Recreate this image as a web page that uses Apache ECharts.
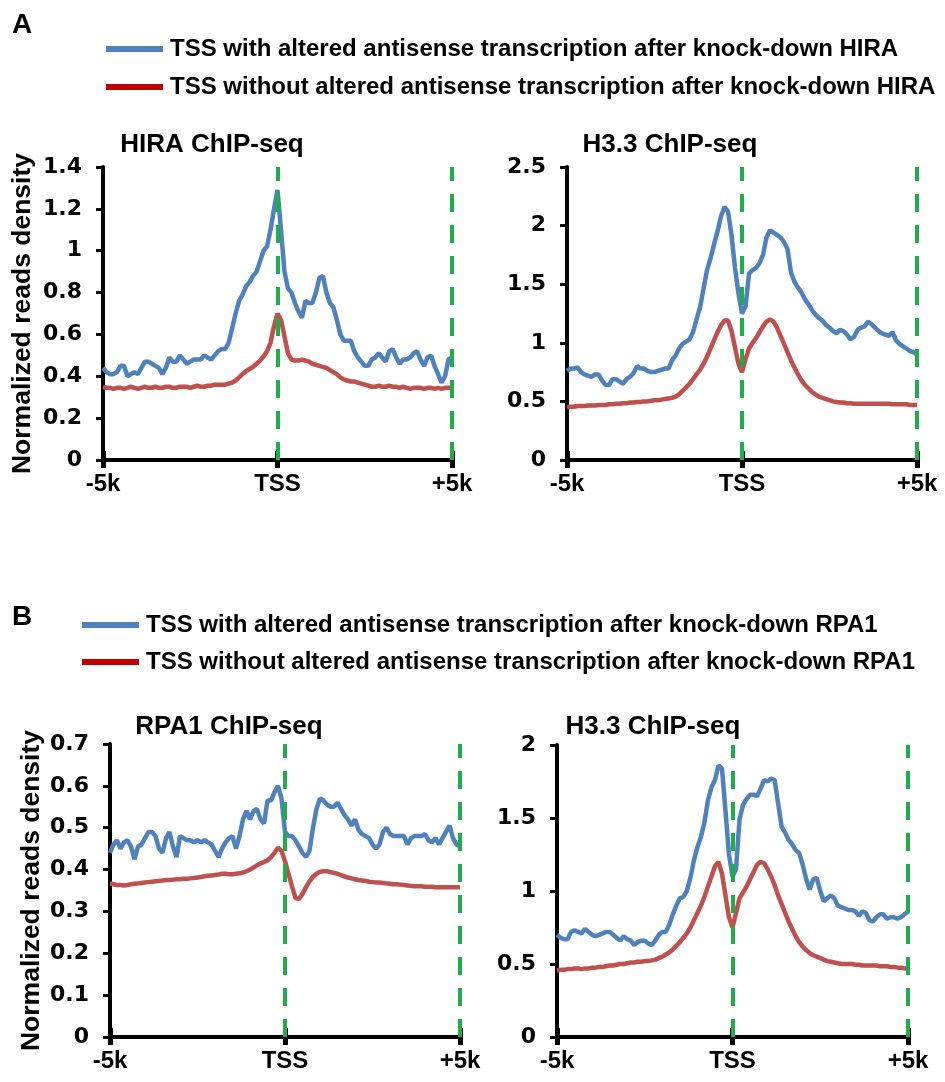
<!DOCTYPE html>
<html>
<head>
<meta charset="utf-8">
<script src="https://cdn.jsdelivr.net/npm/echarts@6/dist/echarts.min.js"></script>
<style>
  html, body { margin: 0; padding: 0; background: #fff; }
  #chart { width: 945px; height: 1082px; }
</style>
</head>
<body>
<div id="chart"></div>
<script>
// bin positions (bp relative to TSS), 100 bp bins from -5k to +5k
const bins = Array.from({ length: 101 }, (_, i) => -5000 + i * 100);

const hiraWith = [
  0.44, 0.42, 0.41, 0.41, 0.42, 0.45, 0.45, 0.40, 0.41, 0.42,
  0.41, 0.44, 0.47, 0.47, 0.46, 0.45, 0.44, 0.41, 0.44, 0.49,
  0.47, 0.47, 0.50, 0.48, 0.46, 0.47, 0.48, 0.48, 0.48, 0.50,
  0.49, 0.48, 0.50, 0.52, 0.53, 0.53, 0.56, 0.63, 0.70, 0.76,
  0.79, 0.83, 0.85, 0.88, 0.90, 0.95, 1.00, 1.02, 1.10, 1.20,
  1.29, 1.10, 0.90, 0.82, 0.80, 0.75, 0.71, 0.68, 0.76, 0.75,
  0.75, 0.80, 0.87, 0.88, 0.80, 0.75, 0.73, 0.67, 0.60, 0.57,
  0.57, 0.57, 0.52, 0.49, 0.47, 0.45, 0.45, 0.48, 0.49, 0.51,
  0.49, 0.47, 0.52, 0.53, 0.49, 0.46, 0.48, 0.48, 0.49, 0.51,
  0.52, 0.48, 0.45, 0.49, 0.50, 0.45, 0.41, 0.37, 0.40, 0.48,
  0.49
];
const hiraWithout = [
  0.35, 0.345, 0.345, 0.34, 0.345, 0.345, 0.34, 0.345, 0.35, 0.345,
  0.34, 0.345, 0.35, 0.345, 0.345, 0.35, 0.345, 0.345, 0.35, 0.35,
  0.345, 0.345, 0.35, 0.35, 0.35, 0.345, 0.35, 0.355, 0.35, 0.35,
  0.355, 0.355, 0.36, 0.36, 0.36, 0.36, 0.365, 0.37, 0.38, 0.395,
  0.41, 0.425, 0.435, 0.445, 0.46, 0.475, 0.495, 0.52, 0.56, 0.64,
  0.70, 0.67, 0.59, 0.51, 0.48, 0.475, 0.475, 0.48, 0.475, 0.47,
  0.46, 0.455, 0.45, 0.445, 0.44, 0.43, 0.42, 0.41, 0.395, 0.385,
  0.38, 0.375, 0.375, 0.37, 0.365, 0.36, 0.355, 0.35, 0.35, 0.355,
  0.35, 0.35, 0.355, 0.35, 0.35, 0.345, 0.35, 0.345, 0.34, 0.345,
  0.345, 0.345, 0.34, 0.345, 0.345, 0.34, 0.345, 0.34, 0.345, 0.345,
  0.345
];
const h33aWith = [
  0.76, 0.78, 0.78, 0.79, 0.75, 0.73, 0.72, 0.71, 0.73, 0.73,
  0.68, 0.64, 0.64, 0.69, 0.69, 0.67, 0.65, 0.69, 0.71, 0.74,
  0.80, 0.78, 0.78, 0.76, 0.75, 0.75, 0.76, 0.77, 0.78, 0.78,
  0.85, 0.89, 0.95, 0.99, 1.01, 1.03, 1.09, 1.20, 1.30, 1.46,
  1.62, 1.72, 1.84, 1.95, 2.08, 2.16, 2.12, 1.92, 1.64, 1.42,
  1.25, 1.31, 1.59, 1.62, 1.64, 1.68, 1.75, 1.90, 1.96, 1.94,
  1.92, 1.90, 1.86, 1.80, 1.60, 1.52, 1.47, 1.43, 1.37, 1.33,
  1.28, 1.24, 1.21, 1.19, 1.15, 1.13, 1.10, 1.08, 1.11, 1.10,
  1.07, 1.03, 1.05, 1.11, 1.13, 1.14, 1.18, 1.16, 1.13, 1.10,
  1.08, 1.07, 1.06, 1.09, 1.02, 0.99, 0.97, 0.95, 0.93, 0.92,
  0.90
];
const h33aWithout = [
  0.45, 0.455, 0.455, 0.46, 0.46, 0.46, 0.465, 0.465, 0.465, 0.47,
  0.47, 0.47, 0.475, 0.475, 0.48, 0.48, 0.485, 0.485, 0.49, 0.49,
  0.495, 0.495, 0.50, 0.50, 0.505, 0.51, 0.51, 0.515, 0.52, 0.525,
  0.53, 0.54, 0.56, 0.59, 0.62, 0.65, 0.69, 0.73, 0.77, 0.82,
  0.88, 0.95, 1.02, 1.09, 1.15, 1.19, 1.19, 1.10, 0.96, 0.82,
  0.75, 0.86, 0.95, 1.00, 1.04, 1.09, 1.14, 1.18, 1.20, 1.18,
  1.13, 1.06, 0.99, 0.92, 0.85, 0.79, 0.73, 0.68, 0.64, 0.61,
  0.58, 0.56, 0.54, 0.53, 0.52, 0.51, 0.50, 0.495, 0.49, 0.49,
  0.485, 0.485, 0.48, 0.48, 0.48, 0.48, 0.48, 0.48, 0.48, 0.48,
  0.48, 0.48, 0.48, 0.475, 0.475, 0.475, 0.475, 0.475, 0.47, 0.47,
  0.47
];
const rpaWith = [
  0.44, 0.46, 0.47, 0.45, 0.465, 0.47, 0.455, 0.425, 0.455, 0.46,
  0.475, 0.49, 0.49, 0.48, 0.45, 0.44, 0.475, 0.49, 0.455, 0.43,
  0.48, 0.475, 0.47, 0.47, 0.465, 0.47, 0.465, 0.47, 0.465, 0.46,
  0.445, 0.43, 0.45, 0.465, 0.475, 0.48, 0.45, 0.48, 0.52, 0.54,
  0.52, 0.54, 0.545, 0.52, 0.51, 0.565, 0.565, 0.585, 0.60, 0.57,
  0.49, 0.48, 0.48, 0.47, 0.455, 0.44, 0.43, 0.445, 0.50, 0.545,
  0.57, 0.565, 0.555, 0.55, 0.55, 0.56, 0.545, 0.53, 0.52, 0.505,
  0.52, 0.495, 0.485, 0.48, 0.475, 0.46, 0.45, 0.46, 0.49, 0.50,
  0.485, 0.48, 0.48, 0.48, 0.48, 0.46, 0.475, 0.48, 0.48, 0.48,
  0.485, 0.47, 0.465, 0.475, 0.46, 0.475, 0.49, 0.505, 0.475, 0.46,
  0.455
];
const rpaWithout = [
  0.367, 0.365, 0.363, 0.363, 0.362, 0.363, 0.365, 0.366, 0.367, 0.368,
  0.369, 0.37, 0.371, 0.372, 0.373, 0.374, 0.375, 0.375, 0.376, 0.377,
  0.377, 0.378, 0.378, 0.379, 0.38, 0.381, 0.382, 0.384, 0.385, 0.386,
  0.387, 0.388, 0.39, 0.39, 0.389, 0.389, 0.39, 0.391, 0.393, 0.396,
  0.40, 0.405, 0.41, 0.415, 0.418, 0.422, 0.43, 0.44, 0.452, 0.445,
  0.42, 0.39, 0.36, 0.332, 0.33, 0.342, 0.358, 0.372, 0.383, 0.39,
  0.395, 0.396, 0.396, 0.394, 0.392, 0.39, 0.387, 0.384, 0.381, 0.379,
  0.377, 0.375, 0.374, 0.373, 0.371, 0.37, 0.369, 0.369, 0.368, 0.367,
  0.366, 0.365, 0.365, 0.364, 0.363, 0.362, 0.361, 0.36, 0.36, 0.36,
  0.359, 0.359, 0.359, 0.358, 0.358, 0.358, 0.358, 0.358, 0.358, 0.358,
  0.358
];
const h33bWith = [
  0.70, 0.68, 0.67, 0.67, 0.72, 0.73, 0.72, 0.71, 0.74, 0.72,
  0.70, 0.69, 0.70, 0.71, 0.72, 0.72, 0.70, 0.68, 0.66, 0.69,
  0.67, 0.66, 0.63, 0.65, 0.66, 0.66, 0.64, 0.63, 0.66, 0.70,
  0.72, 0.72, 0.77, 0.84, 0.90, 0.95, 0.96, 1.00, 1.09, 1.21,
  1.30, 1.37, 1.47, 1.62, 1.71, 1.76, 1.86, 1.84, 1.55, 1.25,
  1.10, 1.15, 1.49, 1.59, 1.63, 1.66, 1.66, 1.65, 1.70, 1.76,
  1.75, 1.77, 1.76, 1.60, 1.44, 1.40, 1.35, 1.32, 1.28, 1.26,
  1.18, 1.08, 1.01, 1.08, 1.09, 1.00, 0.93, 0.95, 0.97, 0.95,
  0.90, 0.89, 0.88, 0.87, 0.87, 0.86, 0.83, 0.86, 0.85, 0.80,
  0.79, 0.82, 0.84, 0.84, 0.81, 0.82, 0.82, 0.81, 0.82, 0.84,
  0.86
];
const h33bWithout = [
  0.455, 0.46, 0.46, 0.465, 0.465, 0.47, 0.47, 0.465, 0.47, 0.47,
  0.475, 0.475, 0.48, 0.48, 0.485, 0.49, 0.49, 0.495, 0.50, 0.50,
  0.505, 0.51, 0.51, 0.515, 0.515, 0.52, 0.52, 0.525, 0.53, 0.54,
  0.55, 0.565, 0.58, 0.60, 0.625, 0.65, 0.68, 0.71, 0.75, 0.80,
  0.85, 0.90, 0.96, 1.03, 1.10, 1.17, 1.20, 1.12, 0.97, 0.82,
  0.75, 0.85, 0.95, 0.99, 1.03, 1.08, 1.13, 1.18, 1.20, 1.19,
  1.15, 1.10, 1.04, 0.97, 0.91, 0.85, 0.79, 0.74, 0.69, 0.65,
  0.62, 0.595, 0.575, 0.56, 0.55, 0.54, 0.53, 0.52, 0.515, 0.51,
  0.505, 0.50, 0.50, 0.50, 0.50, 0.495, 0.495, 0.49, 0.49, 0.49,
  0.49, 0.49, 0.485, 0.485, 0.485, 0.48, 0.48, 0.475, 0.475, 0.47,
  0.47
];

const legendA = [
  "TSS with altered antisense transcription after knock-down HIRA",
  "TSS without altered antisense transcription after knock-down HIRA"
];
const legendB = [
  "TSS with altered antisense transcription after knock-down RPA1",
  "TSS without altered antisense transcription after knock-down RPA1"
];
const xTickLabels = { "-5000": "-5k", "0": "TSS", "5000": "+5k" };

const FONT = "'Liberation Sans', Arial, sans-serif";
const WIDE_FONT = "'DejaVu Sans', Verdana, sans-serif";
const BLUE = "#4F81BD";
const RED = "#C0504D";
const LEGEND_RED = "#C00000";
const GREEN = "#1FAD4B";

const panels = [
  { title: "HIRA ChIP-seq", tx: 212, ty: 145, max: 1.4, step: 0.2, nameGap: 67,
    grid: { left: 103, top: 167, width: 349, height: 293 },
    names: legendA, withD: hiraWith, withoutD: hiraWithout },
  { title: "H3.3 ChIP-seq", tx: 670, ty: 145, max: 2.5, step: 0.5, nameGap: 0,
    grid: { left: 567, top: 167, width: 350, height: 293 },
    names: legendA, withD: h33aWith, withoutD: h33aWithout },
  { title: "RPA1 ChIP-seq", tx: 229, ty: 727, max: 0.7, step: 0.1, nameGap: 65,
    grid: { left: 110, top: 744, width: 350, height: 293 },
    names: legendB, withD: rpaWith, withoutD: rpaWithout },
  { title: "H3.3 ChIP-seq", tx: 653, ty: 727, max: 2, step: 0.5, nameGap: 0,
    grid: { left: 557, top: 745, width: 351, height: 292 },
    names: legendB, withD: h33bWith, withoutD: h33bWithout }
];

const pairs = (vals) => vals.map((v, i) => [bins[i], v]);

const grid = [], xAxis = [], yAxis = [], series = [], graphic = [];

panels.forEach((p, k) => {
  grid.push(p.grid);
  const xBase = {
    type: "value", gridIndex: k, min: -5000, max: 5000, interval: 5000,
    position: "bottom", splitLine: { show: false }
  };
  xAxis.push(Object.assign({}, xBase, {
    axisLine: { show: true, onZero: false, lineStyle: { color: "#000", width: 4 } },
    axisTick: { show: true, length: 8, lineStyle: { color: "#000", width: 5 } },
    axisLabel: {
      margin: 12, color: "#000", fontSize: 24, fontWeight: "bold", fontFamily: FONT,
      formatter: (v) => xTickLabels[String(v)] || ""
    }
  }));
  // second axis: inward half of the crossing ticks
  xAxis.push(Object.assign({}, xBase, {
    axisLine: { show: false, onZero: false },
    axisTick: { show: true, inside: true, length: 9, lineStyle: { color: "#000", width: 5 } },
    axisLabel: { show: false }
  }));
  yAxis.push({
    type: "value", gridIndex: k, min: 0, max: p.max, interval: p.step,
    splitLine: { show: false },
    axisLine: { show: true, onZero: false, lineStyle: { color: "#000", width: 4 } },
    axisTick: { show: true, length: 7, lineStyle: { color: "#000", width: 3 } },
    axisLabel: { margin: 21, color: "#000", fontSize: 22, fontWeight: "bold", fontFamily: WIDE_FONT },
    name: p.nameGap ? "Normalized reads density" : "",
    nameLocation: "middle",
    nameRotate: 90,
    nameGap: p.nameGap,
    nameTextStyle: { color: "#000", fontSize: 26.5, fontWeight: "bold", fontFamily: FONT }
  });
  series.push({
    type: "line", name: p.names[0], xAxisIndex: k * 2, yAxisIndex: k,
    data: pairs(p.withD), symbol: "none", silent: true, z: 3,
    lineStyle: { color: BLUE, width: 4.5 }, itemStyle: { color: BLUE },
    markLine: {
      silent: true, symbol: "none", label: { show: false },
      lineStyle: { color: GREEN, width: 4, type: [18, 13] },
      data: [{ xAxis: 0 }, { xAxis: 5000 }]
    }
  });
  series.push({
    type: "line", name: p.names[1], xAxisIndex: k * 2, yAxisIndex: k,
    data: pairs(p.withoutD), symbol: "none", silent: true, z: 4,
    lineStyle: { color: RED, width: 4.5 }, itemStyle: { color: RED }
  });
  graphic.push({
    type: "text", x: p.tx, y: p.ty,
    style: { text: p.title, font: `bold 26px ${FONT}`, fill: "#000",
             textAlign: "center", textVerticalAlign: "middle" }
  });
});

graphic.push(
  { type: "text", x: 12, y: 25,
    style: { text: "A", font: `bold 28px ${FONT}`, fill: "#000", textVerticalAlign: "middle" } },
  { type: "text", x: 12, y: 617,
    style: { text: "B", font: `bold 28px ${FONT}`, fill: "#000", textVerticalAlign: "middle" } }
);

const legendStyle = (names, left, top, gap) => ({
  orient: "vertical", left, top, padding: 0, itemGap: gap,
  selectedMode: false, icon: "rect", itemWidth: 57, itemHeight: 6,
  textStyle: { color: "#000", fontSize: 24, fontWeight: "bold", fontFamily: FONT, padding: [0, 0, 0, 2] },
  data: [
    { name: names[0], itemStyle: { color: BLUE } },
    { name: names[1], itemStyle: { color: LEGEND_RED } }
  ]
});

const chart = echarts.init(document.getElementById("chart"), null, { renderer: "canvas" });
chart.setOption({
  backgroundColor: "#fff",
  animation: false,
  legend: [legendStyle(legendA, 106, 37, 14), legendStyle(legendB, 82, 613, 13)],
  grid, xAxis, yAxis, series, graphic
});
</script>
</body>
</html>
